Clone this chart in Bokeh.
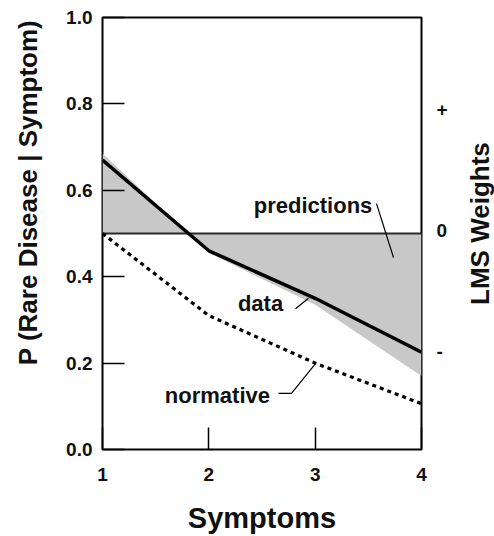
import math
from bokeh.plotting import figure
from bokeh.layouts import row
from bokeh.models import Range1d, LinearAxis, FixedTicker, PrintfTickFormatter, Label
from bokeh.embed import file_html
from bokeh.resources import INLINE

# ---- data ----
symptoms = [1, 2, 3, 4]
data_p = [0.67, 0.46, 0.35, 0.225]
shade_edge = [0.685, 0.455, 0.335, 0.17]
predictions = [0.5, 0.5, 0.5, 0.5]
normative = [0.5, 0.31, 0.2, 0.106]

x_ticks = [1, 2, 3, 4]
y_ticks = [0.0, 0.2, 0.4, 0.6, 0.8, 1.0]
lms_ticks = [-1, 0, 1]
lms_labels = {-1: "-", 0: "0", 1: "+"}

# ---- annotation layout (data coords) ----
pred_label = (2.98, 0.565)
pred_leader_x = [3.577, 3.737]
pred_leader_y = [0.569, 0.444]
data_label = (2.486, 0.338)
data_leader_x = [2.815, 2.937]
data_leader_y = [0.326, 0.350]
norm_label = (2.081, 0.125)
norm_leader_x = [2.655, 2.777, 3.003]
norm_leader_y = [0.130, 0.130, 0.199]

FONT = "Liberation Sans"
INK = "#111111"
TOP, BOTTOM = 17, 87


def side_panel(width, text, x, y):
    f = figure(width=width, height=536, x_range=Range1d(0, 1), y_range=Range1d(0, 1),
               output_backend="svg", toolbar_location=None,
               min_border_left=0, min_border_right=0, min_border_top=TOP, min_border_bottom=BOTTOM)
    f.axis.visible = False
    f.grid.visible = False
    f.outline_line_color = None
    f.background_fill_color = "white"
    f.border_fill_color = "white"
    f.add_layout(Label(x=x, y=y, text=text, angle=math.pi / 2,
                       text_font=FONT, text_font_style="bold", text_font_size="26px",
                       text_align="center", text_baseline="middle", text_color=INK))
    return f


p = figure(width=417, height=536, x_range=Range1d(1, 4), y_range=Range1d(0, 1),
           output_backend="svg", toolbar_location=None,
           min_border_left=58, min_border_right=40, min_border_top=TOP, min_border_bottom=BOTTOM)
p.xgrid.visible = False
p.ygrid.visible = False
p.outline_line_color = "black"
p.outline_line_width = 2
p.background_fill_color = "white"
p.border_fill_color = "white"

# shaded region
p.varea(x=symptoms, y1=predictions, y2=shade_edge, fill_color="#c8c8c8", fill_alpha=1.0)
# predictions line
p.line(symptoms, predictions, line_color="#2a2a2a", line_width=2)
# normative
p.line(symptoms, normative, line_color="black", line_width=3.2, line_dash="4 4")
# data
p.line(symptoms, data_p, line_color="black", line_width=3.5)

# leaders
p.line(pred_leader_x, pred_leader_y, line_color="black", line_width=1.2)
p.line(data_leader_x, data_leader_y, line_color="black", line_width=1.2)
p.line(norm_leader_x, norm_leader_y, line_color="black", line_width=1.2)

for txt, (lx, ly) in [("predictions", pred_label), ("data", data_label), ("normative", norm_label)]:
    p.add_layout(Label(x=lx, y=ly, text=txt, text_font=FONT, text_font_style="bold",
                       text_font_size="22px", text_align="center", text_baseline="middle",
                       text_color=INK))

# axes
xa = p.xaxis[0]
xa.ticker = FixedTicker(ticks=x_ticks)
ya = p.yaxis[0]
ya.ticker = FixedTicker(ticks=y_ticks)
ya.formatter = PrintfTickFormatter(format="%.1f")
for ax in (xa, ya):
    ax.axis_line_color = None
    ax.major_tick_in = 22
    ax.major_tick_out = 0
    ax.major_tick_line_width = 1.5
    ax.major_tick_line_color = "black"
    ax.minor_tick_line_color = None
    ax.major_label_text_font = FONT
    ax.major_label_text_font_style = "bold"
    ax.major_label_text_font_size = "19px"
    ax.major_label_text_color = INK
ya.major_label_standoff = 10
xa.major_label_standoff = 18
xa.axis_label = "Symptoms"
xa.axis_label_text_font = FONT
xa.axis_label_text_font_style = "bold"
xa.axis_label_text_font_size = "29px"
xa.axis_label_text_color = INK
xa.axis_label_standoff = 18

p.extra_y_ranges = {"lms": Range1d(-1.811, 1.761)}
ra = LinearAxis(y_range_name="lms", ticker=FixedTicker(ticks=lms_ticks),
                major_label_overrides=lms_labels)
ra.axis_line_color = None
ra.major_tick_in = 0
ra.major_tick_out = 0
ra.minor_tick_line_color = None
ra.major_label_standoff = 15
ra.major_label_text_font = FONT
ra.major_label_text_font_style = "bold"
ra.major_label_text_font_size = "19px"
ra.major_label_text_color = INK
p.add_layout(ra, "right")

# axis titles in narrow companion panels
p_left = side_panel(44, "P (Rare Disease | Symptom)", 0.636, 0.595)
p_right = side_panel(33, "LMS Weights", 0.55, 0.523)

layout = row(p_left, p, p_right, spacing=0)
open("out.html", "w").write(file_html(layout, INLINE))
